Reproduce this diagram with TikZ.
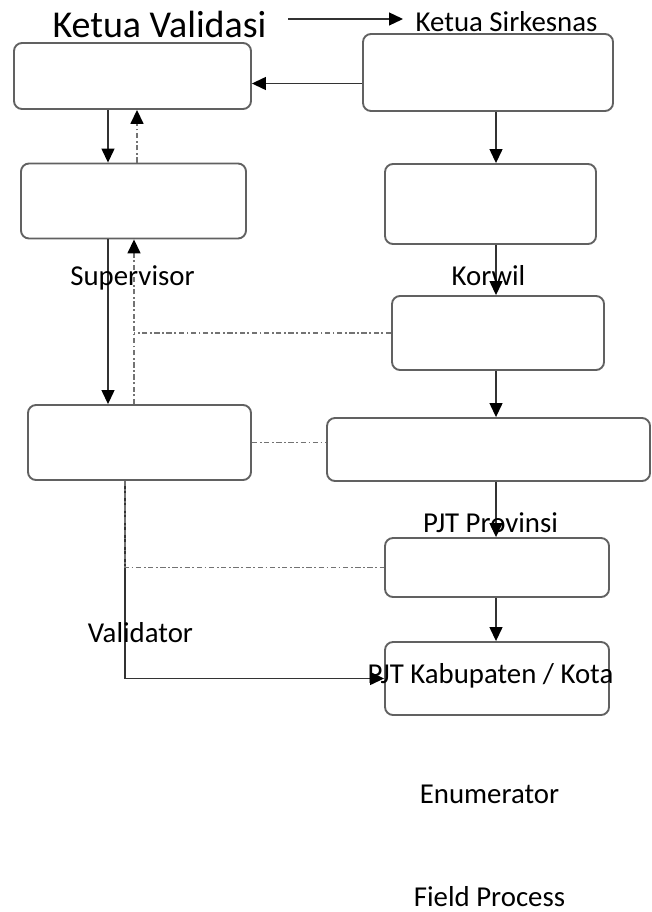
\documentclass[tikz,border=0pt]{standalone}
\usepackage{fontspec}
\setmainfont{Carlito}
\usetikzlibrary{arrows.meta,positioning}

\begin{document}
\begin{tikzpicture}
[x=0.3mm, y=-0.3mm,
Box/.style={rectangle,rounded corners=2.4mm,draw=black!62,line width=1.6pt,fill=white,inner sep=0pt},
Tag/.style={rectangle,inner sep=0pt,anchor=base,font=\fontsize{24.6}{26}\selectfont},
BigTag/.style={rectangle,inner sep=0pt,anchor=base,font=\fontsize{32.4}{34}\selectfont},
Line/.style={draw=black!80,line width=1.1pt},
Arrow/.style={Line,-{Triangle[length=4.2mm,width=3.9mm,color=black]}},
DashDot/.style={draw=black!55,line width=1.3pt,dash pattern=on 4.5pt off 2.2pt on 1.5pt off 2.2pt},
DashArrow/.style={DashDot,-{Triangle[length=4.2mm,width=3.9mm,color=black]}}]

\useasboundingbox (0,0) rectangle (651,912);

% kolom kiri
\node[Box, minimum width=71.1mm, minimum height=19.8mm] (n1) at (132.5, 76) {};
\node[Box, minimum width=67.5mm, minimum height=22.5mm] (n2) at (133.5, 201) {};
\node[Box, minimum width=66.9mm, minimum height=22.5mm] (n3) at (139.5, 442.5) {};

% kolom kanan
\node[Box, minimum width=75mm, minimum height=23.1mm] (n4) at (488, 72.5) {};
\node[Box, minimum width=63.3mm, minimum height=24mm] (n5) at (490.5, 204) {};
\node[Box, minimum width=63.6mm, minimum height=22.2mm] (n6) at (498, 333) {};
\node[Box, minimum width=96.9mm, minimum height=18.9mm] (n7) at (488.5, 449.5) {};
\node[Box, minimum width=67.2mm, minimum height=17.7mm] (n8) at (497, 567.5) {};
\node[Box, minimum width=67.2mm, minimum height=21.9mm] (n9) at (497, 678.5) {};

% garis
\coordinate (c1) at (108, 0);
\coordinate (c2) at (137, 0);
\coordinate (c3) at (134, 0);
\coordinate (c4) at (125, 0);
\coordinate (c5) at (496, 0);
\coordinate (a1) at (288, 19);
\coordinate (a2) at (403, 19);

\draw[Arrow] (a1) -- (a2);
\draw[Arrow] ([yshift=-3.3mm]n4.west) -- ([yshift=-3.3mm]n4.west -| n1.east);
\draw[Arrow] (n1.south -| c1) -- (n2.north -| c1);
\draw[DashArrow] (n2.north -| c2) -- (n1.south -| c2);
\draw[Arrow] (n2.south -| c1) -- (n3.north -| c1);
\draw[DashArrow] (n3.north -| c3) -- (n2.south -| c3);
\draw[DashDot] (n6.west) -- (n6.west -| c3);
\draw[DashDot] (n3.east) -- (n3.east -| n7.west);
\draw[Arrow] (n3.south -| c4) -- (n9.west -| c4) -- (n9.west);
\draw[DashDot] (n3.south -| c4) -- (n8.west -| c4) -- (n8.west);

\draw[Arrow] (n4.south -| c5) -- (n5.north -| c5);
\draw[Arrow] (n5.south -| c5) -- (n6.north -| c5);
\draw[Arrow] (n6.south -| c5) -- (n7.north -| c5);
\draw[Arrow] (n7.south -| c5) -- (n8.north -| c5);
\draw[Arrow] (n8.south -| c5) -- (n9.north -| c5);

% teks
\node[BigTag] (t1) at (159.5, 38) {Ketua Validasi};
\node[Tag] (t2) at (506.5, 32) {Ketua Sirkesnas};
\node[Tag] (t3) at (132.5, 285) {Supervisor};
\node[Tag] (t4) at (488.5, 285) {Korwil};
\node[Tag] (t5) at (140.5, 642) {Validator};
\node[Tag] (t6) at (490.5, 532) {PJT Provinsi};
\node[Tag] (t7) at (490.5, 683) {PJT Kabupaten / Kota};
\node[Tag] (t8) at (489.5, 803) {Enumerator};
\node[Tag] (t9) at (489.5, 906) {Field Process};

\end{tikzpicture}
\end{document}
